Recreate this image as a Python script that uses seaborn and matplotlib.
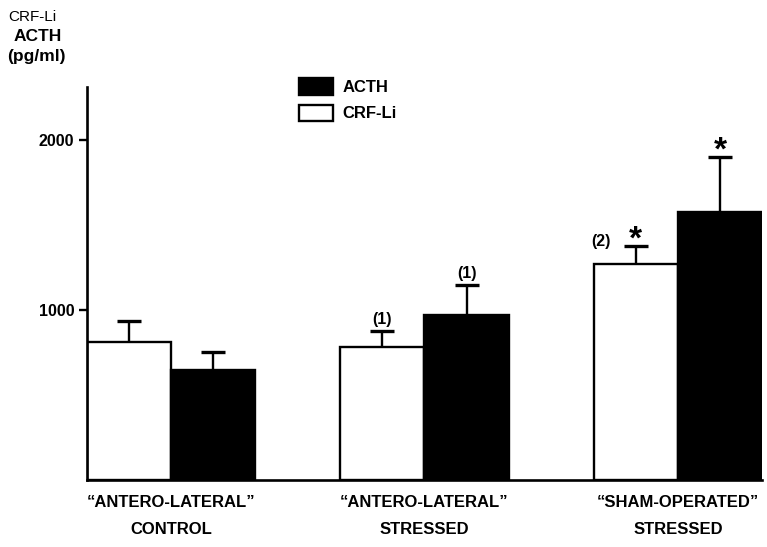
import matplotlib
matplotlib.use("Agg")
import matplotlib.pyplot as plt
import seaborn as sns
import pandas as pd
from matplotlib.patches import Patch

groups = ["“ANTERO-LATERAL”\nCONTROL", "“ANTERO-LATERAL”\nSTRESSED", "“SHAM-OPERATED”\nSTRESSED"]
hormones = ["CRF-Li", "ACTH"]
crf_values = [812, 782, 1271]
crf_errors = [123, 94, 105]
acth_values = [647, 971, 1576]
acth_errors = [106, 176, 324]
annotations_crf = ["", "(1)", "*"]
annotations_acth = ["", "(1)", "*"]

sns.set_style("white")
plt.rcParams["font.family"] = ["Liberation Sans", "DejaVu Sans"]
plt.rcParams["text.color"] = "black"
plt.rcParams["xtick.color"] = "black"
plt.rcParams["ytick.color"] = "black"
plt.rcParams["axes.labelcolor"] = "black"

df = pd.DataFrame({
    "group": groups * 2,
    "hormone": [hormones[0]] * 3 + [hormones[1]] * 3,
    "value": crf_values + acth_values,
    "err": crf_errors + acth_errors,
})

fig = plt.figure(figsize=(7.67, 5.47), dpi=100)
ax = fig.add_axes([0.1134, 0.1225, 0.8801, 0.7185])

sns.barplot(data=df, x="group", y="value", hue="hormone", hue_order=hormones,
            palette={"CRF-Li": "white", "ACTH": "black"}, edgecolor="black",
            linewidth=1.7, width=0.664, errorbar=None, legend=False, ax=ax)

lookup = {}
for _, r in df.iterrows():
    lookup[r["value"]] = r
for p in ax.patches:
    h = p.get_height()
    key = min(lookup.keys(), key=lambda v: abs(v - h))
    r = lookup[key]
    xc = p.get_x() + p.get_width() / 2
    eb = ax.errorbar([xc], [h], yerr=[[0], [r["err"]]], fmt="none", ecolor="black",
                     elinewidth=1.7, capsize=8.5, capthick=2.4, zorder=1)
    caps = eb.lines[1]
    if len(caps) > 1:
        caps[0].set_visible(False)
    gi = groups.index(r["group"])
    top = h + r["err"]
    if r["hormone"] == "CRF-Li":
        lab = annotations_crf[gi]
    else:
        lab = annotations_acth[gi]
    if lab == "(1)":
        ax.annotate(lab, xy=(xc, top), xytext=(0, 3), textcoords="offset points",
                    ha="center", va="bottom", fontsize=11.5, fontweight="bold")
    elif lab == "*":
        ax.annotate(lab, xy=(xc, top), xytext=(0, -7), textcoords="offset points",
                    ha="center", va="bottom", fontsize=24, fontweight="bold")
        if r["hormone"] == "CRF-Li":
            ax.annotate("(2)", xy=(xc, top), xytext=(-25, 3), textcoords="offset points",
                        ha="center", va="center", fontsize=11.5, fontweight="bold")

ax.set_xlim(-0.332, 2.332)
ax.set_ylim(0, 2312)
ax.set_yticks([1000, 2000])
ax.set_yticklabels(["1000", "2000"], fontweight="bold", fontsize=11.5)
ax.set_xlabel("")
ax.set_ylabel("")
ax.tick_params(axis="x", length=0, pad=11, labelsize=12)
for t in ax.get_xticklabels():
    t.set_fontweight("bold")
    t.set_linespacing(2.0)
ax.tick_params(axis="y", length=6, width=1.7, direction="out", left=True, pad=3)
sns.despine(ax=ax)
for s in ["left", "bottom"]:
    ax.spines[s].set_linewidth(1.9)
    ax.spines[s].set_color("black")

handles = [Patch(facecolor="black", edgecolor="black", linewidth=1.7, label="ACTH"),
           Patch(facecolor="white", edgecolor="black", linewidth=1.7, label="CRF-Li")]
leg = fig.legend(handles=handles, loc="upper left", bbox_to_anchor=(0.370, 0.884),
                 frameon=False, prop={"weight": "bold", "size": 12},
                 handlelength=2.05, handleheight=1.15, handletextpad=0.55, labelspacing=0.55)

fig.text(0.042, 0.969, "CRF-Li", ha="center", va="center", fontsize=11)
fig.text(0.049, 0.934, "ACTH", ha="center", va="center", fontsize=12.5, fontweight="bold")
fig.text(0.047, 0.896, "(pg/ml)", ha="center", va="center", fontsize=12.5, fontweight="bold")

fig.savefig("out.png", dpi=100)
